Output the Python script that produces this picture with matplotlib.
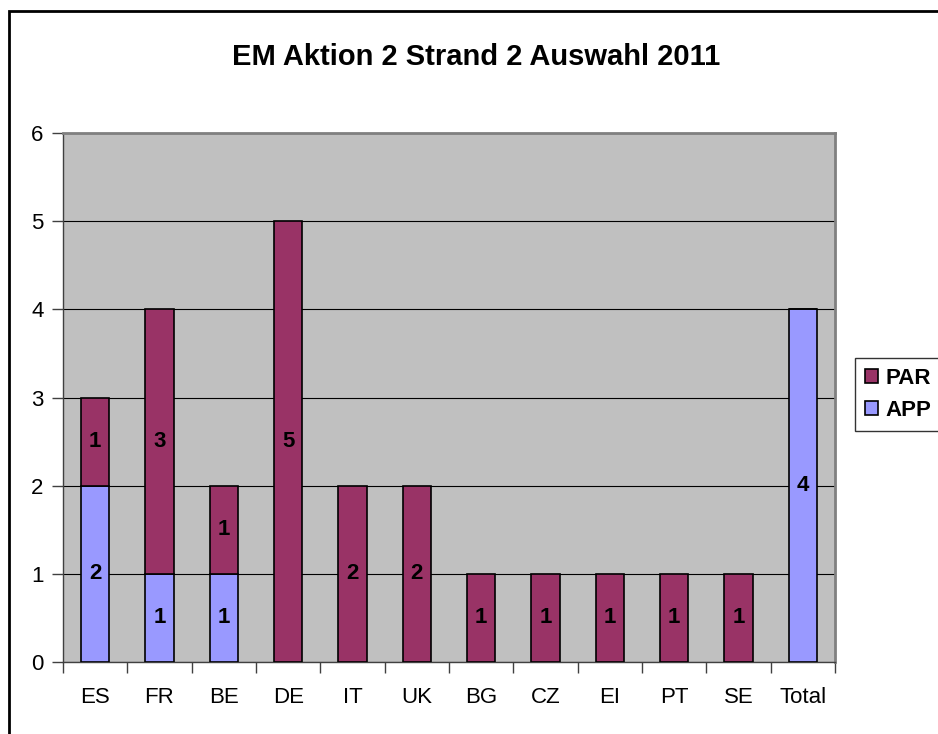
import matplotlib
matplotlib.use("Agg")
import matplotlib.pyplot as plt
import numpy as np
from matplotlib.patches import Rectangle

plt.rcParams['font.family'] = ['Liberation Sans', 'DejaVu Sans']

countries = ["ES", "FR", "BE", "DE", "IT", "UK", "BG", "CZ", "EI", "PT", "SE", "Total"]
app = [2, 1, 1, 0, 0, 0, 0, 0, 0, 0, 0, 4]
par = [1, 3, 1, 5, 2, 2, 1, 1, 1, 1, 1, 0]

app_color = "#9999FF"
par_color = "#993366"

fig = plt.figure(figsize=(9.38, 7.34), dpi=100)
ax = fig.add_axes([63 / 938, 1 - 662 / 734, (835 - 63) / 938, (662 - 133) / 734])

# outer chart frame (cut off at right/bottom like the source)
fig.patches.append(Rectangle((9 / 938, -0.05), 1.0, 1 - 11 / 734 + 0.05,
                             transform=fig.transFigure, fill=False,
                             edgecolor="black", linewidth=2, zorder=0))

ax.set_facecolor("#C0C0C0")
x = np.arange(len(countries))
w = 0.44
ax.bar(x, app, w, color=app_color, edgecolor="black", linewidth=1.2, label="APP", zorder=3)
ax.bar(x, par, w, bottom=app, color=par_color, edgecolor="black", linewidth=1.2, label="PAR", zorder=3)

for i in range(len(countries)):
    if app[i] > 0:
        ax.text(x[i], app[i] / 2, str(app[i]), ha="center", va="center",
                fontsize=16, fontweight="bold", zorder=4)
    if par[i] > 0:
        ax.text(x[i], app[i] + par[i] / 2, str(par[i]), ha="center", va="center",
                fontsize=16, fontweight="bold", zorder=4)

ax.set_xlim(-0.5, len(countries) - 0.5)
ax.set_ylim(0, 6)
ax.set_yticks(range(7))
ax.yaxis.grid(True, color="black", linewidth=0.8, zorder=1)
ax.set_axisbelow(True)
ax.set_xticks(x)
ax.set_xticklabels(countries)
ax.set_xticks(np.arange(-0.5, len(countries)), minor=True)
ax.tick_params(axis="x", which="major", length=0, pad=18, labelsize=16)
ax.tick_params(axis="x", which="minor", length=8, width=1, color="#404040")
ax.tick_params(axis="y", length=8, width=1, color="#404040", labelsize=16, pad=6)

for side in ["top", "right"]:
    ax.spines[side].set_color("#808080")
    ax.spines[side].set_linewidth(2)
for side in ["left", "bottom"]:
    ax.spines[side].set_color("#404040")
    ax.spines[side].set_linewidth(1)

fig.text(476 / 938, 1 - 57 / 734, "EM Aktion 2 Strand 2 Auswahl 2011",
         ha="center", va="center", fontsize=21, fontweight="bold")

h, l = ax.get_legend_handles_labels()
leg = fig.legend(h[::-1], l[::-1], loc="upper left", bbox_to_anchor=(855 / 938, 1 - 358 / 734),
                 frameon=True, fancybox=False, edgecolor="black",
                 prop={"weight": "bold", "size": 16}, handlelength=0.6, handleheight=0.6,
                 handletextpad=0.3, borderpad=0.45, labelspacing=0.5, borderaxespad=0)
leg.get_frame().set_linewidth(1)

fig.savefig("out.png", dpi=100)
